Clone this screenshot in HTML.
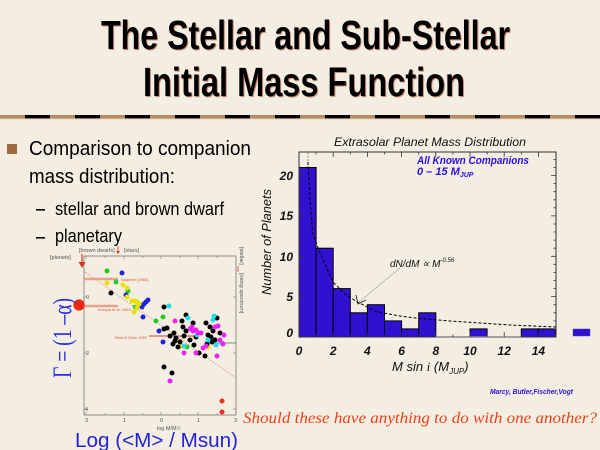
<!DOCTYPE html>
<html><head><meta charset="utf-8"><style>
html,body{margin:0;padding:0;background:#F3EEE1;}
svg{display:block;}
</style></head><body>
<svg width="600" height="450" viewBox="0 0 600 450" xmlns="http://www.w3.org/2000/svg" font-family="Liberation Sans, sans-serif">
<rect width="600" height="450" fill="#F3EEE1"/>
<!-- Title -->
<g font-weight="bold" font-size="41">
<text x="102" y="50" textLength="409" lengthAdjust="spacingAndGlyphs" fill="#C88A70">The Stellar and Sub-Stellar</text>
<text x="101" y="49" textLength="409" lengthAdjust="spacingAndGlyphs" fill="#000">The Stellar and Sub-Stellar</text>
<text x="144" y="97" textLength="322" lengthAdjust="spacingAndGlyphs" fill="#C88A70">Initial Mass Function</text>
<text x="143" y="96" textLength="322" lengthAdjust="spacingAndGlyphs" fill="#000">Initial Mass Function</text>
</g>
<!-- separator -->
<rect x="0" y="115" width="600" height="3.5" fill="#B38B66"/>
<line x1="0" y1="116.7" x2="600" y2="116.7" stroke="#000" stroke-width="3.4" stroke-dasharray="25 25" stroke-dashoffset="25"/>
<line x1="0" y1="119" x2="600" y2="119" stroke="#E8C8A8" stroke-width="0.8"/>
<!-- bullets -->
<rect x="7" y="144" width="10" height="10" fill="#9C6A3C"/>
<text x="29" y="155" font-size="20" textLength="222" lengthAdjust="spacingAndGlyphs" fill="#000">Comparison to companion</text>
<text x="29" y="183" font-size="20" textLength="146" lengthAdjust="spacingAndGlyphs" fill="#000">mass distribution:</text>
<rect x="36" y="209" width="9" height="1.6" fill="#000"/>
<text x="55" y="215" font-size="18" textLength="169" lengthAdjust="spacingAndGlyphs" fill="#000">stellar and brown dwarf</text>
<rect x="36" y="237" width="9" height="1.6" fill="#000"/>
<text x="55" y="242" font-size="18" textLength="67" lengthAdjust="spacingAndGlyphs" fill="#000">planetary</text>

<!-- LEFT CHART -->
<g>
<rect x="84" y="256" width="152" height="159" fill="none" stroke="#777" stroke-width="0.8"/>
<g stroke="#777" stroke-width="0.6">
<line x1="86" y1="256" x2="86" y2="259"/><line x1="105" y1="256" x2="105" y2="258"/><line x1="124" y1="256" x2="124" y2="259"/><line x1="143" y1="256" x2="143" y2="258"/><line x1="161" y1="256" x2="161" y2="259"/><line x1="180" y1="256" x2="180" y2="258"/><line x1="198" y1="256" x2="198" y2="259"/><line x1="217" y1="256" x2="217" y2="258"/>
<line x1="86" y1="415" x2="86" y2="412"/><line x1="105" y1="415" x2="105" y2="413"/><line x1="124" y1="415" x2="124" y2="412"/><line x1="143" y1="415" x2="143" y2="413"/><line x1="161" y1="415" x2="161" y2="412"/><line x1="180" y1="415" x2="180" y2="413"/><line x1="198" y1="415" x2="198" y2="412"/><line x1="217" y1="415" x2="217" y2="413"/>
<line x1="84" y1="297" x2="87" y2="297"/><line x1="84" y1="353" x2="87" y2="353"/><line x1="84" y1="409" x2="87" y2="409"/>
<line x1="236" y1="297" x2="233" y2="297"/><line x1="236" y1="353" x2="233" y2="353"/><line x1="236" y1="409" x2="233" y2="409"/>
</g>
<line x1="85" y1="272" x2="236" y2="378" stroke="#E08868" stroke-width="0.8" stroke-dasharray="1.5 1.5"/>
<line x1="84" y1="279" x2="118" y2="279" stroke="#E8A090" stroke-width="2.5"/>
<line x1="84" y1="306" x2="118" y2="306" stroke="#E8A090" stroke-width="2.5"/>
<line x1="149" y1="336" x2="198" y2="336" stroke="#E04020" stroke-width="1"/>
<line x1="213" y1="343" x2="236" y2="343" stroke="#666" stroke-width="0.8"/>
<g font-size="4" fill="#E05030">
<text x="121" y="281">Salpeter (1955)</text>
<text x="98" y="311">Kroupa et al. 1993</text>
<text x="115" y="339">Reid &amp; Gizis 1997</text>
</g>
<g font-size="5.5" fill="#555">
<text x="50" y="259">[planets]</text>
<text x="79" y="252">[brown dwarfs]</text>
<text x="124" y="252">[stars]</text>
<text x="86" y="299">0</text>
<text x="86" y="355">2</text>
<text x="85" y="411">4</text>
<text x="85" y="422">3</text><text x="123" y="422">1</text><text x="160" y="422">0</text><text x="197" y="422">1</text><text x="234" y="422">3</text>
<text x="157" y="430">log M/M☉</text>
<text transform="translate(240,247) rotate(90)">[stellar]</text>
<text transform="translate(240,273) rotate(90)">[rising spectrum]</text>
</g>
<g stroke="#E03020" fill="#E03020">
<line x1="82" y1="254" x2="82" y2="263" stroke-width="1.2"/>
<path d="M78.5 262 L85.5 262 L82 268 Z" stroke="none"/>
<line x1="118" y1="246" x2="118" y2="252" stroke-width="0.8"/>
<path d="M116 251 L120 251 L118 254 Z" stroke="none"/>
<line x1="238" y1="272" x2="238" y2="266" stroke-width="0.8"/>
</g>
<circle cx="79" cy="305" r="5.6" fill="#F02810"/>
<g>
<g fill="#22CC22"><circle cx="107" cy="271" r="2.5"/><circle cx="116" cy="282" r="2.5"/><circle cx="128" cy="291" r="2.5"/><circle cx="156" cy="321" r="2.5"/><circle cx="163" cy="317" r="2.5"/><circle cx="187" cy="347" r="2.5"/><circle cx="135" cy="307" r="2.3"/></g>
<g fill="#2222DD"><circle cx="122" cy="273" r="2.5"/><circle cx="126" cy="295" r="2.5"/><circle cx="143" cy="317" r="2.5"/><circle cx="159" cy="331" r="2.5"/><circle cx="163" cy="342" r="2.5"/><circle cx="142" cy="307" r="2.5"/><circle cx="144" cy="304" r="2.5"/><circle cx="146" cy="302" r="2.5"/><circle cx="148" cy="300" r="2.5"/></g>
<g fill="#E8E000"><circle cx="107" cy="283" r="2.5"/><circle cx="123" cy="285" r="2.5"/><circle cx="127" cy="288" r="2.5"/><circle cx="127" cy="297" r="2.5"/><circle cx="132" cy="301" r="2.5"/><circle cx="135" cy="301" r="2.5"/><circle cx="137" cy="302" r="2.5"/><circle cx="139" cy="304" r="2.5"/><circle cx="137" cy="308" r="2.5"/><circle cx="134" cy="312" r="2.5"/><circle cx="181" cy="346" r="2.5"/><circle cx="208" cy="347" r="2.5"/></g>
<g fill="#000"><circle cx="111" cy="293" r="2.5"/><circle cx="164" cy="307" r="2.5"/><circle cx="186" cy="315" r="2.5"/><circle cx="182" cy="321" r="2.5"/><circle cx="193" cy="323" r="2.5"/><circle cx="164" cy="329" r="2.5"/><circle cx="167" cy="328" r="2.5"/><circle cx="174" cy="333" r="2.5"/><circle cx="176" cy="338" r="2.5"/><circle cx="180" cy="342" r="2.5"/><circle cx="173" cy="344" r="2.5"/><circle cx="178" cy="347" r="2.5"/><circle cx="175" cy="341" r="2.5"/><circle cx="184" cy="336" r="2.5"/><circle cx="186" cy="331" r="2.5"/><circle cx="194" cy="345" r="2.5"/><circle cx="207" cy="344" r="2.5"/><circle cx="212" cy="342" r="2.5"/><circle cx="206" cy="323" r="2.5"/><circle cx="210" cy="327" r="2.5"/><circle cx="213" cy="331" r="2.5"/><circle cx="208" cy="335" r="2.5"/><circle cx="199" cy="353" r="2.5"/><circle cx="205" cy="356" r="2.5"/><circle cx="164" cy="367" r="2.5"/><circle cx="172" cy="373" r="2.5"/><circle cx="217" cy="318" r="2.5"/><circle cx="215" cy="340" r="2.5"/><circle cx="211" cy="337" r="2.5"/><circle cx="190" cy="340" r="2.5"/><circle cx="196" cy="337" r="2.5"/><circle cx="220" cy="333" r="2.5"/><circle cx="170" cy="336" r="2.5"/><circle cx="183" cy="327" r="2.5"/></g>
<g fill="#22DDEE"><circle cx="169" cy="306" r="2.5"/><circle cx="188" cy="318" r="2.5"/><circle cx="214" cy="316" r="2.5"/><circle cx="213" cy="320" r="2.5"/><circle cx="197" cy="335" r="2.5"/><circle cx="216" cy="345" r="2.5"/><circle cx="222" cy="343" r="2.5"/><circle cx="184" cy="346" r="2.5"/><circle cx="208" cy="340" r="2.5"/></g>
<g fill="#EE22EE"><circle cx="175" cy="321" r="2.5"/><circle cx="190" cy="329" r="2.5"/><circle cx="193" cy="331" r="2.5"/><circle cx="196" cy="330" r="2.5"/><circle cx="198" cy="333" r="2.5"/><circle cx="192" cy="327" r="2.5"/><circle cx="215" cy="327" r="2.5"/><circle cx="224" cy="335" r="2.5"/><circle cx="184" cy="353" r="2.5"/><circle cx="196" cy="353" r="2.5"/><circle cx="203" cy="348" r="2.5"/><circle cx="217" cy="356" r="2.5"/><circle cx="218" cy="326" r="2.5"/><circle cx="223" cy="344" r="2.5"/><circle cx="170" cy="381" r="2.5"/><circle cx="201" cy="333" r="2.5"/><circle cx="206" cy="346" r="2.5"/><circle cx="220" cy="340" r="2.5"/></g>
<g fill="#F03020"><circle cx="222" cy="401" r="2.5"/><circle cx="222" cy="412" r="2.5"/></g>
</g>
<text transform="translate(71,378) rotate(-90)" font-family="Liberation Serif, serif" font-size="26" fill="#2A2AE0" textLength="80" lengthAdjust="spacingAndGlyphs">Γ = (1 –α)</text>
<text x="75" y="447" font-size="20" fill="#2222DD" textLength="163" lengthAdjust="spacingAndGlyphs">Log (&lt;M&gt; / Msun)</text>
</g>

<!-- RIGHT CHART -->
<g>
<text x="334" y="146" font-size="12" font-style="italic" fill="#111" textLength="192" lengthAdjust="spacingAndGlyphs">Extrasolar Planet Mass Distribution</text>
<g fill="#3210D0" stroke="#000" stroke-width="1">
<rect x="299" y="167.5" width="17.1" height="169.5"/>
<rect x="316.1" y="248.2" width="17.1" height="88.8"/>
<rect x="333.2" y="288.6" width="17.1" height="48.4"/>
<rect x="350.3" y="312.8" width="17.1" height="24.2"/>
<rect x="367.4" y="304.7" width="17.1" height="32.3"/>
<rect x="384.5" y="320.9" width="17.1" height="16.1"/>
<rect x="401.6" y="328.9" width="17.1" height="8.1"/>
<rect x="418.7" y="312.8" width="17.1" height="24.2"/>
<rect x="470" y="328.9" width="17.1" height="8.1"/>
<rect x="521.3" y="328.9" width="17.1" height="8.1"/>
<rect x="538.4" y="328.9" width="17.1" height="8.1"/>
</g>
<rect x="299" y="152" width="257" height="185" fill="none" stroke="#333" stroke-width="1"/>
<line x1="435.8" y1="337" x2="521.3" y2="337" stroke="#888" stroke-width="1.6"/>
<g stroke="#333" stroke-width="0.8">
<!-- bottom/top major -->
<path d="M299 337v-5M333.2 337v-5M367.4 337v-5M401.6 337v-5M435.8 337v-5M470 337v-5M504.2 337v-5M538.4 337v-5
M316.1 337v-2.5M350.3 337v-2.5M384.5 337v-2.5M418.7 337v-2.5M452.9 337v-2.5M487.1 337v-2.5M521.3 337v-2.5M555.5 337v-2.5
M299 152v5M333.2 152v5M367.4 152v5M401.6 152v5M435.8 152v5M470 152v5M504.2 152v5M538.4 152v5
M316.1 152v2.5M350.3 152v2.5M384.5 152v2.5M418.7 152v2.5M452.9 152v2.5M487.1 152v2.5M521.3 152v2.5"/>
<!-- left/right -->
<path d="M299 296.6h5M299 256.3h5M299 215.9h5M299 175.6h5
M556 296.6h-5M556 256.3h-5M556 215.9h-5M556 175.6h-5
M556 328.9h-2.5M556 320.9h-2.5M556 312.8h-2.5M556 304.7h-2.5M556 288.6h-2.5M556 280.5h-2.5M556 272.4h-2.5M556 264.3h-2.5M556 248.2h-2.5M556 240.1h-2.5M556 232.0h-2.5M556 224.0h-2.5M556 207.8h-2.5M556 199.8h-2.5M556 191.7h-2.5M556 183.6h-2.5M556 167.5h-2.5M556 159.5h-2.5"/>
</g>
<line x1="308" y1="152" x2="308" y2="167" stroke="#777" stroke-width="0.8" stroke-dasharray="2 1.5"/>
<path d="M308 162 L310 200 L312.7 233 L317 245 L324 262 L333 282 L345 294 L356.7 301.7 L376.7 311.7 L400 316 L420 318.5 L450 321 L480 323 L510 325 L556 327" fill="none" stroke="#000" stroke-width="1" stroke-dasharray="3 2"/>
<line x1="400" y1="268" x2="359" y2="302" stroke="#777" stroke-width="0.8" stroke-dasharray="1 1"/>
<path d="M356 295 L358 304 L366 300" fill="none" stroke="#222" stroke-width="0.9"/>
<g font-size="12" font-weight="bold" font-style="italic" fill="#111" text-anchor="end">
<text x="293" y="180">20</text>
<text x="293" y="220">15</text>
<text x="293" y="261">10</text>
<text x="293" y="301">5</text>
<text x="293" y="337">0</text>
</g>
<g font-size="12" font-weight="bold" font-style="italic" fill="#111" text-anchor="middle">
<text x="299" y="355">0</text><text x="333.2" y="355">2</text><text x="367.4" y="355">4</text><text x="401.6" y="355">6</text><text x="435.8" y="355">8</text><text x="470" y="355">10</text><text x="504.2" y="355">12</text><text x="538.4" y="355">14</text>
</g>
<text transform="translate(271,295) rotate(-90)" font-size="13" font-style="italic" fill="#111" textLength="106" lengthAdjust="spacingAndGlyphs">Number of Planets</text>
<text x="392" y="371" font-size="13" font-style="italic" fill="#111">M sin <tspan font-family="Liberation Serif, serif">i</tspan>  (M<tspan font-size="8" dy="3">JUP</tspan><tspan dy="-3">)</tspan></text>
<g font-weight="bold" font-style="italic" fill="#2A10E0">
<text x="417" y="164" font-size="11" textLength="112" lengthAdjust="spacingAndGlyphs">All Known Companions</text>
<text x="417" y="175" font-size="11">0 – 15 M<tspan font-size="7" dy="2">JUP</tspan></text>
</g>
<text x="390" y="267" font-size="10" font-style="italic" fill="#111">dN/dM ∝  M<tspan font-size="6" dy="-5">-0.56</tspan></text>
<rect x="573" y="329" width="17" height="7" fill="#3210D0" stroke="#4444aa" stroke-width="0.5"/>
<text x="490" y="394" font-size="7.5" font-weight="bold" font-style="italic" fill="#2A10E0" textLength="83" lengthAdjust="spacingAndGlyphs">Marcy, Butler,Fischer,Vogt</text>
</g>
<text x="243" y="423" font-family="Liberation Serif, serif" font-size="16" font-style="italic" fill="#F04018" textLength="354" lengthAdjust="spacingAndGlyphs">Should these have anything to do with one another?</text>
</svg>
</body></html>
